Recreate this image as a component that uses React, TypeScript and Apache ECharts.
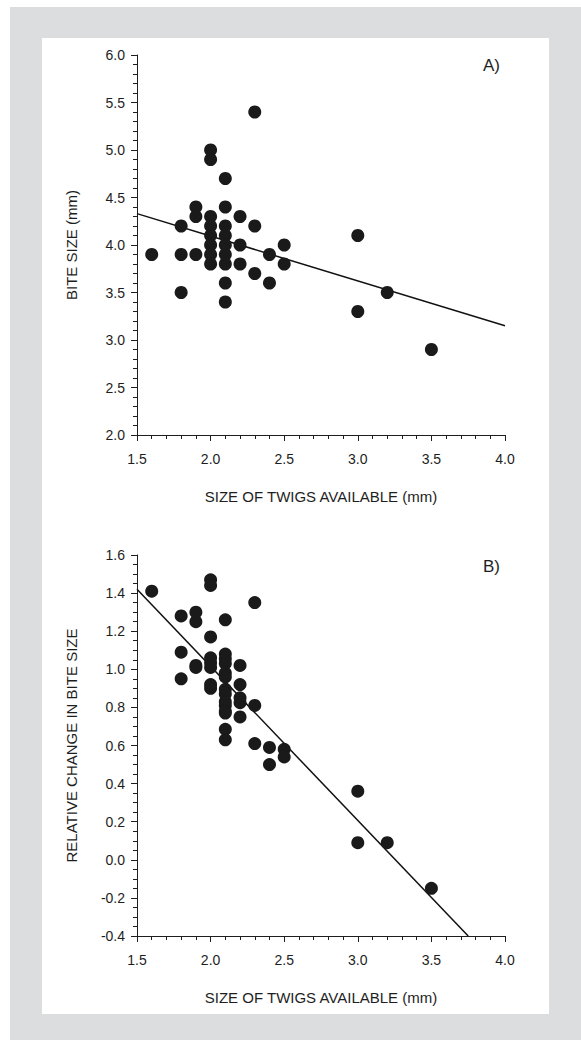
import React, { useEffect, useRef } from "react";
import * as echarts from "echarts";

// Panel A: bite size vs size of twigs available
const aTwigSize = [1.6, 1.8, 1.8, 1.8, 1.9, 1.9, 1.9, 2.0, 2.0, 2.0, 2.0, 2.0, 2.0, 2.0, 2.0, 2.1, 2.1, 2.1, 2.1, 2.1, 2.1, 2.1, 2.1, 2.1, 2.2, 2.2, 2.2, 2.3, 2.3, 2.3, 2.4, 2.4, 2.5, 2.5, 3.0, 3.0, 3.2, 3.5];
const aBiteSize = [3.9, 4.2, 3.9, 3.5, 4.4, 4.3, 3.9, 5.0, 4.9, 4.3, 4.2, 4.1, 3.9, 3.8, 4.0, 4.7, 4.4, 4.2, 4.1, 4.0, 3.9, 3.8, 3.6, 3.4, 4.3, 4.0, 3.8, 5.4, 4.2, 3.7, 3.9, 3.6, 4.0, 3.8, 4.1, 3.3, 3.5, 2.9];
const aFitX = [1.5, 4.0];
const aFitY = [4.33, 3.15];

// Panel B: relative change in bite size vs size of twigs available
const bTwigSize = [1.6, 1.8, 1.8, 1.8, 1.9, 1.9, 1.9, 1.9, 2.0, 2.0, 2.0, 2.0, 2.0, 2.0, 2.0, 2.0, 2.1, 2.1, 2.1, 2.1, 2.1, 2.1, 2.1, 2.1, 2.1, 2.1, 2.1, 2.1, 2.1, 2.1, 2.2, 2.2, 2.2, 2.2, 2.2, 2.3, 2.3, 2.3, 2.4, 2.4, 2.5, 2.5, 3.0, 3.0, 3.2, 3.5];
const bRelChange = [1.41, 1.28, 1.09, 0.95, 1.30, 1.25, 1.02, 1.01, 1.47, 1.44, 1.17, 1.06, 1.035, 1.01, 0.92, 0.90, 1.26, 1.08, 1.055, 1.03, 0.98, 0.96, 0.895, 0.87, 0.83, 0.81, 0.78, 0.77, 0.685, 0.63, 1.02, 0.92, 0.85, 0.825, 0.75, 1.35, 0.81, 0.61, 0.59, 0.50, 0.58, 0.54, 0.36, 0.09, 0.09, -0.15];
const bFitX = [1.5, 3.75];
const bFitY = [1.42, -0.4];

const xTitle = "SIZE OF TWIGS AVAILABLE (mm)";
const aYTitle = "BITE SIZE (mm)";
const bYTitle = "RELATIVE CHANGE IN BITE SIZE";
const panelLabels = ["A)", "B)"];

const FONT = "'Liberation Sans', Arial, Helvetica, sans-serif";
const INK = "#1e1e1e";

function zip(xs: number[], ys: number[]) {
  return xs.map((x, i) => [x, ys[i]]);
}

function xAxisCfg(gridIndex: number) {
  return {
    type: "value",
    gridIndex,
    min: 1.5,
    max: 4.0,
    interval: 0.5,
    name: xTitle,
    nameLocation: "middle",
    nameGap: 54,
    nameTextStyle: { fontFamily: FONT, fontSize: 15, color: INK },
    axisLine: { show: true, onZero: false, lineStyle: { color: INK, width: 1 } },
    axisTick: { show: true, inside: false, length: 6, lineStyle: { color: INK, width: 1 } },
    minorTick: { show: true, splitNumber: 5, length: 4, lineStyle: { color: INK, width: 1 } },
    splitLine: { show: false },
    minorSplitLine: { show: false },
    axisLabel: {
      fontFamily: FONT,
      fontSize: 14,
      color: INK,
      margin: 17,
      formatter: (v: number) => v.toFixed(1),
    },
  };
}

function yAxisCfg(gridIndex: number, min: number, max: number, interval: number, split: number, title: string) {
  return {
    type: "value",
    gridIndex,
    min,
    max,
    interval,
    name: title,
    nameLocation: "middle",
    nameGap: 58,
    nameRotate: 90,
    nameTextStyle: { fontFamily: FONT, fontSize: 15, color: INK },
    axisLine: { show: true, onZero: false, lineStyle: { color: INK, width: 1 } },
    axisTick: { show: true, inside: false, length: 6, lineStyle: { color: INK, width: 1 } },
    minorTick: { show: true, splitNumber: split, length: 4, lineStyle: { color: INK, width: 1 } },
    splitLine: { show: false },
    minorSplitLine: { show: false },
    axisLabel: {
      fontFamily: FONT,
      fontSize: 14,
      color: INK,
      margin: 12,
      formatter: (v: number) => (Math.abs(v) < 1e-9 ? 0 : v).toFixed(1),
    },
  };
}

export default function App() {
  const ref = useRef<HTMLDivElement>(null);

  useEffect(() => {
    if (!ref.current) return;
    const chart = echarts.init(ref.current, undefined, { renderer: "svg" });
    chart.setOption({
      animation: false,
      backgroundColor: "transparent",
      grid: [
        { left: 137, top: 55, width: 368, height: 380 },
        { left: 137, top: 555, width: 368, height: 381 },
      ],
      xAxis: [xAxisCfg(0), xAxisCfg(1)],
      yAxis: [
        yAxisCfg(0, 2.0, 6.0, 0.5, 5, aYTitle),
        yAxisCfg(1, -0.4, 1.6, 0.2, 4, bYTitle),
      ],
      graphic: [
        {
          type: "text",
          left: 483,
          top: 57,
          style: { text: panelLabels[0], fontFamily: FONT, fontSize: 17, fill: INK },
        },
        {
          type: "text",
          left: 483,
          top: 558,
          style: { text: panelLabels[1], fontFamily: FONT, fontSize: 17, fill: INK },
        },
      ],
      series: [
        {
          type: "line",
          xAxisIndex: 0,
          yAxisIndex: 0,
          data: zip(aFitX, aFitY),
          showSymbol: false,
          symbol: "none",
          lineStyle: { color: "#111", width: 1.5 },
          z: 1,
        },
        {
          type: "scatter",
          xAxisIndex: 0,
          yAxisIndex: 0,
          data: zip(aTwigSize, aBiteSize),
          symbol: "circle",
          symbolSize: 13,
          itemStyle: { color: "#1a1a1a", opacity: 1 },
          z: 2,
        },
        {
          type: "line",
          xAxisIndex: 1,
          yAxisIndex: 1,
          data: zip(bFitX, bFitY),
          showSymbol: false,
          symbol: "none",
          lineStyle: { color: "#111", width: 1.5 },
          z: 1,
        },
        {
          type: "scatter",
          xAxisIndex: 1,
          yAxisIndex: 1,
          data: zip(bTwigSize, bRelChange),
          symbol: "circle",
          symbolSize: 13,
          itemStyle: { color: "#1a1a1a", opacity: 1 },
          z: 2,
        },
      ],
    });
    return () => chart.dispose();
  }, []);

  return (
    <div style={{ position: "absolute", left: 0, top: 0, width: 581, height: 1040, overflow: "hidden" }}>
      <div style={{ position: "absolute", left: 10, top: 7, width: 571, height: 1033, background: "#dcdddf" }} />
      <div style={{ position: "absolute", left: 42, top: 38, width: 507, height: 976, background: "#ffffff" }} />
      <div ref={ref} style={{ position: "absolute", left: 0, top: 0, width: 581, height: 1040 }} />
    </div>
  );
}
